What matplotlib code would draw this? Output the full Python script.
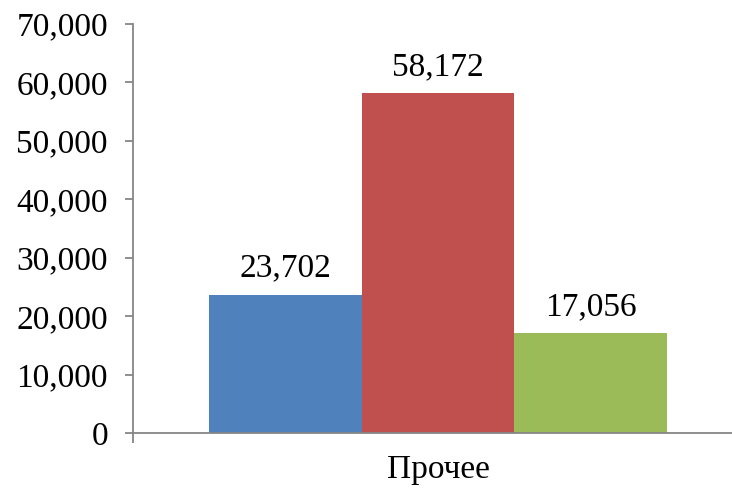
import numpy as np
import matplotlib.pyplot as plt
import matplotlib.transforms as mtransforms

plt.rcParams['font.family'] = ['Liberation Serif', 'DejaVu Serif']

categories = ["Прочее"]
series_values = [23702, 58172, 17056]
series_colors = ["#4F81BD", "#C0504D", "#9BBB59"]
yticks = [0, 10000, 20000, 30000, 40000, 50000, 60000, 70000]

W, H = 732, 491
fig = plt.figure(figsize=(W / 100, H / 100), dpi=100)
ax = fig.add_axes([133 / W, (H - 433) / H, (743 - 133) / W, (433 - 24) / H])

width = 0.2505
offsets = (np.arange(len(series_values)) - 1) * width
for off, val, col in zip(offsets, series_values, series_colors):
    ax.bar(off, val, width=width, color=col, zorder=2)
    ax.annotate(f"{val:,}", (off, val), xytext=(0, 19), textcoords="offset points",
                ha="center", va="center", fontsize=24)

ax.set_xlim(-0.5, 0.5)
ax.set_ylim(0, 70000)
ax.set_yticks(yticks)
ax.set_yticklabels([f"{v:,}" for v in yticks], fontsize=24)
ax.set_xticks([-0.5, 0.5])
ax.set_xticklabels(["", ""])
trans = mtransforms.blended_transform_factory(ax.transData, ax.transAxes)
ax.text(0, -0.09, categories[0], transform=trans, ha="center", va="center", fontsize=24)

for s in ["top", "right"]:
    ax.spines[s].set_visible(False)
for s in ["left", "bottom"]:
    ax.spines[s].set_color("#868686")
    ax.spines[s].set_linewidth(1.3)
ax.tick_params(axis="y", direction="out", length=6, color="#868686", width=1.3, pad=12)
ax.tick_params(axis="x", direction="out", length=7, color="#868686", width=1.3)

fig.savefig("out.png", dpi=100)
